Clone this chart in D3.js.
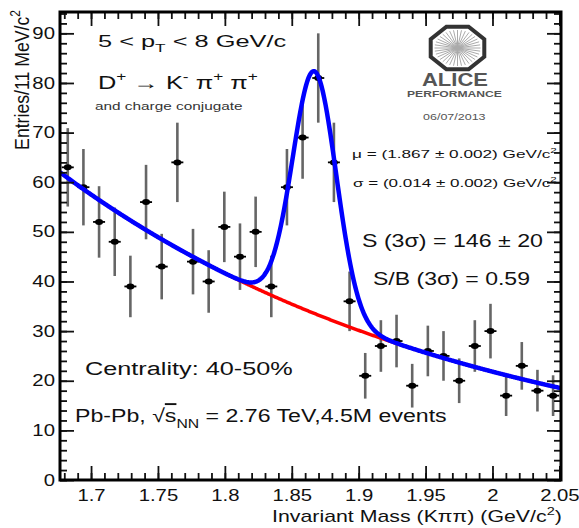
<!DOCTYPE html>
<html>
<head>
<meta charset="utf-8">
<script src="https://cdn.jsdelivr.net/npm/d3@7"></script>
<style>
  body { margin: 0; background: #fff; }
  svg { font-family: "Liberation Sans", Arial, Helvetica, sans-serif; }
  text { white-space: pre; }
</style>
</head>
<body>
<svg class="chart" width="579" height="528"></svg>
<script>
// invariant mass bin centres (GeV/c^2) and entries per bin
const MASS = [1.6826, 1.6943, 1.7060, 1.7177, 1.7294, 1.7411, 1.7528, 1.7645,
  1.7762, 1.7879, 1.7996, 1.8113, 1.8230, 1.8347, 1.8464, 1.8581,
  1.8698, 1.8815, 1.8932, 1.9049, 1.9166, 1.9283, 1.9400, 1.9517,
  1.9634, 1.9751, 1.9868, 1.9985, 2.0102, 2.0219, 2.0336, 2.0453]
const ENTRIES = [63, 59, 52, 48, 39, 56, 43, 64, 44, 40, 51, 45, 50, 39, 59, 69,
  81, 64, 36, 21, 27, 28, 19, 26, 25, 20, 27, 30, 17, 23, 18, 17]
const ERRORS = [7.9, 7.7, 7.2, 6.9, 6.2, 7.5, 6.6, 8.0, 6.6, 6.3, 7.1, 6.7, 7.1, 6.2, 7.7, 8.3,
  9.0, 8.0, 6.0, 4.6, 5.2, 5.3, 4.4, 5.1, 5.0, 4.5, 5.2, 5.5, 4.1, 4.8, 4.2, 4.1]

const X_TICKS = [1.7, 1.75, 1.8, 1.85, 1.9, 1.95, 2, 2.05]
const X_TICK_LABELS = ['1.7', '1.75', '1.8', '1.85', '1.9', '1.95', '2', '2.05']
const Y_TICKS = [0, 10, 20, 30, 40, 50, 60, 70, 80, 90]

// fit: exponential background + gaussian signal
const BG_NORM = 62
const BG_SLOPE = 3.23
const BG_REF = 1.6768
const SIG_AMP = 48.8
const SIG_MEAN = 1.867
const SIG_SIGMA = 0.0163

const X_DOMAIN = [1.6768, 2.0512]
const Y_DOMAIN = [0, 94.3]
const SX = 1.27 // the picture is stretched sideways

const svg = d3.select('svg.chart')
const plot = { left: 60, right: 561, top: 12, bottom: 480 }

const x = d3.scaleLinear().domain(X_DOMAIN).range([plot.left, plot.right])
const y = d3.scaleLinear().domain(Y_DOMAIN).range([plot.bottom, plot.top])

// fit width of a text group to what the picture shows
function place(t, px, py, width) {
  const w = t.node().getBBox().width
  t.attr('transform', `translate(${px},${py}) scale(${width / w},1)`)
  return t
}

function rich(parts, size, fill) {
  const t = svg.append('text').attr('font-size', size).attr('fill', fill || '#111')
  let shift = 0
  parts.forEach(([s, kind, deco]) => {
    const target = kind === 'sup' ? -0.42 * size : kind === 'sub' ? 0.3 * size : 0
    const sp = t.append('tspan')
      .attr('dy', target - shift)
      .attr('font-size', kind ? size * 0.68 : size)
      .text(s)
    if (deco) sp.style('text-decoration', deco)
    shift = target
  })
  return t
}

// clip for curves
svg.append('clipPath').attr('id', 'clip')
  .append('rect')
  .attr('x', plot.left).attr('y', plot.top)
  .attr('width', plot.right - plot.left).attr('height', plot.bottom - plot.top)

// error bars
const pts = MASS.map((m, i) => ({ m, v: ENTRIES[i], e: ERRORS[i] }))
svg.append('g').selectAll('line')
  .data(pts)
  .enter()
  .append('line')
  .attr('x1', d => x(d.m)).attr('x2', d => x(d.m))
  .attr('y1', d => y(d.v - d.e)).attr('y2', d => y(d.v + d.e))
  .style('stroke', '#666')
  .style('stroke-width', 2.6)

const marks = svg.append('g').selectAll('g')
  .data(pts)
  .enter()
  .append('g')
  .attr('transform', d => `translate(${x(d.m)},${y(d.v)})`)
marks.append('line')
  .attr('x1', -6).attr('x2', 6)
  .style('stroke', '#000').style('stroke-width', 1.8)
marks.append('ellipse')
  .attr('rx', 4).attr('ry', 3)
  .style('fill', '#000')

// fit curves
const grid = d3.range(X_DOMAIN[0], X_DOMAIN[1] + 0.0005, 0.0005)
const bg = m => BG_NORM * Math.exp(-BG_SLOPE * (m - BG_REF))
const total = m => bg(m) + SIG_AMP * Math.exp(-0.5 * Math.pow((m - SIG_MEAN) / SIG_SIGMA, 2))
const line = d3.line().x(d => x(d[0])).y(d => y(d[1]))

const curves = svg.append('g').attr('clip-path', 'url(#clip)')
curves.append('path')
  .attr('d', line(grid.map(m => [m, bg(m)])))
  .style('fill', 'none').style('stroke', '#ff0000').style('stroke-width', 3.5)
curves.append('path')
  .attr('d', line(grid.map(m => [m, total(m)])))
  .style('fill', 'none').style('stroke', '#0000ff').style('stroke-width', 4.5)

// axes, ROOT style with inward ticks on all four sides
const xMinor = d3.range(1.68, 2.0505, 0.01)
const yMinor = d3.range(0, 94.3, 2)

function styleAxis(g) {
  g.select('.domain').remove()
  g.selectAll('.tick line').style('stroke', '#111').style('stroke-width', 1.8)
}

svg.append('g')
  .attr('transform', `translate(0,${plot.bottom})`)
  .call(d3.axisBottom(x).tickValues(xMinor).tickSizeInner(-7).tickSizeOuter(0).tickFormat(''))
  .call(styleAxis)
const xAxis = svg.append('g')
  .attr('transform', `translate(0,${plot.bottom})`)
  .call(d3.axisBottom(x).tickValues(X_TICKS).tickSizeInner(-14).tickSizeOuter(0)
    .tickPadding(10).tickFormat((d, i) => X_TICK_LABELS[i]))
  .call(styleAxis)
xAxis.selectAll('text')
  .attr('font-size', 16).attr('fill', '#111').attr('font-family', null)
  .attr('transform', `scale(${SX},1)`)

svg.append('g')
  .attr('transform', `translate(0,${plot.top})`)
  .call(d3.axisTop(x).tickValues(xMinor).tickSizeInner(-7).tickSizeOuter(0).tickFormat(''))
  .call(styleAxis)
svg.append('g')
  .attr('transform', `translate(0,${plot.top})`)
  .call(d3.axisTop(x).tickValues(X_TICKS).tickSizeInner(-14).tickSizeOuter(0).tickFormat(''))
  .call(styleAxis)

svg.append('g')
  .attr('transform', `translate(${plot.left},0)`)
  .call(d3.axisLeft(y).tickValues(yMinor).tickSizeInner(-7).tickSizeOuter(0).tickFormat(''))
  .call(styleAxis)
const yAxis = svg.append('g')
  .attr('transform', `translate(${plot.left},0)`)
  .call(d3.axisLeft(y).tickValues(Y_TICKS).tickSizeInner(-14).tickSizeOuter(0).tickPadding(4))
  .call(styleAxis)
yAxis.selectAll('text')
  .attr('font-size', 16).attr('fill', '#111').attr('font-family', null)
  .attr('transform', `scale(${SX},1)`)

svg.append('g')
  .attr('transform', `translate(${plot.right},0)`)
  .call(d3.axisRight(y).tickValues(yMinor).tickSizeInner(-7).tickSizeOuter(0).tickFormat(''))
  .call(styleAxis)
svg.append('g')
  .attr('transform', `translate(${plot.right},0)`)
  .call(d3.axisRight(y).tickValues(Y_TICKS).tickSizeInner(-14).tickSizeOuter(0).tickFormat(''))
  .call(styleAxis)

// frame
svg.append('rect')
  .attr('x', plot.left).attr('y', plot.top)
  .attr('width', plot.right - plot.left).attr('height', plot.bottom - plot.top)
  .style('fill', 'none').style('stroke', '#000').style('stroke-width', 3)

// axis titles
place(rich([['Invariant Mass (K\u03c0\u03c0) (GeV/c', null], ['2', 'sup'], [')', null]], 16), 272, 522, 290)
const yt = rich([['Entries/11 MeV/c', null], ['2', 'sup']], 16)
yt.attr('text-anchor', 'end')
yt.attr('transform', `translate(29,10) rotate(-90) scale(${140 / yt.node().getBBox().width},${SX})`)

// annotations
place(rich([['5 < p', null], ['T', 'sub'], [' < 8 GeV/c', null]], 17), 98, 47, 189)
place(rich([['D', null], ['+', 'sup'], [' \u2192 K', null], ['-', 'sup'], [' \u03c0', null], ['+', 'sup'],
  [' \u03c0', null], ['+', 'sup']], 18), 98, 89, 160)
place(rich([['and charge conjugate', null]], 10.5, '#333'), 95, 110, 148)
place(rich([['\u03bc = (1.867 \u00b1 0.002) GeV/c', null], ['2', 'sup']], 11.5), 352, 158, 205)
place(rich([['\u03c3 = (0.014 \u00b1 0.002) GeV/c', null], ['2', 'sup']], 11.5), 353, 187, 204)
place(rich([['S (3\u03c3) = 146 \u00b1 20', null]], 19), 362, 247, 181)
place(rich([['S/B (3\u03c3) = 0.59', null]], 19), 373, 285, 157)
place(rich([['Centrality: 40-50%', null]], 19), 85, 375, 208)
place(rich([['Pb-Pb, ', null], ['\u221a', null], ['s', null, 'overline'], ['NN', 'sub'],
  [' = 2.76 TeV,4.5M events', null]], 19), 75, 422, 372)

// ALICE performance logo
const logo = svg.append('g').attr('transform', 'translate(457.5,48)')
const octo = d3.range(8).map(k => {
  const a = Math.PI / 8 + k * Math.PI / 4
  return [29 * Math.cos(a), 23 * Math.sin(a)]
})
logo.selectAll('line')
  .data(d3.range(36))
  .enter()
  .append('line')
  .attr('x2', k => 23 * Math.cos(k * Math.PI / 18))
  .attr('y2', k => 18 * Math.sin(k * Math.PI / 18))
  .style('stroke', '#aaa').style('stroke-width', 1)
logo.append('path')
  .attr('d', 'M' + octo.map(p => p.join(',')).join('L') + 'Z')
  .style('fill', 'none').style('stroke', '#333').style('stroke-width', 4)
place(rich([['ALICE', null]], 18, '#555').attr('font-weight', 'bold'), 422, 86, 66)
place(rich([['PERFORMANCE', null]], 9, '#555').attr('font-weight', 'bold'), 407, 97, 95)
place(rich([['06/07/2013', null]], 8.5, '#555'), 423, 120, 63)
</script>
</body>
</html>
